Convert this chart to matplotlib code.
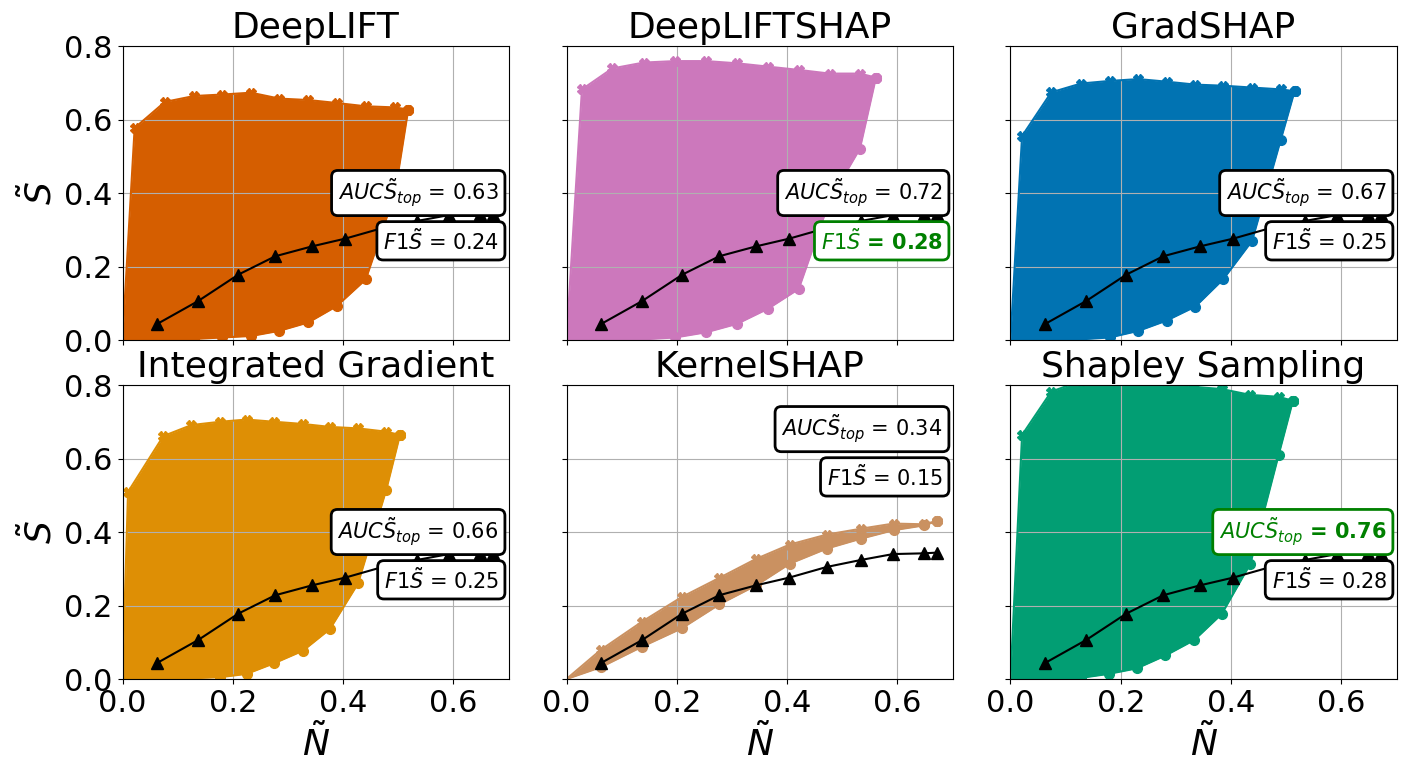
import matplotlib
matplotlib.use("Agg")
import matplotlib.pyplot as plt

methods = ["DeepLIFT", "DeepLIFTSHAP", "GradSHAP",
           "Integrated Gradient", "KernelSHAP", "Shapley Sampling"]
colors = ["#D55E00", "#CC78BC", "#0173B2", "#DE8F05", "#CA9161", "#029E73"]

# N~ values per method (shared by the top / bottom curves)
n_vals = [
    [0, 0.022, 0.077, 0.130, 0.181, 0.233, 0.284, 0.337, 0.388, 0.441, 0.494, 0.518],
    [0, 0.028, 0.083, 0.140, 0.197, 0.253, 0.309, 0.365, 0.421, 0.477, 0.532, 0.561],
    [0, 0.021, 0.074, 0.128, 0.180, 0.232, 0.283, 0.335, 0.386, 0.438, 0.490, 0.515],
    [0, 0.010, 0.074, 0.125, 0.177, 0.225, 0.275, 0.327, 0.376, 0.427, 0.478, 0.503],
    [0, 0.062, 0.137, 0.209, 0.277, 0.344, 0.405, 0.472, 0.534, 0.593, 0.648, 0.672],
    [0, 0.021, 0.074, 0.127, 0.178, 0.229, 0.281, 0.333, 0.383, 0.435, 0.486, 0.512],
]
s_top = [
    [0, 0.577, 0.648, 0.664, 0.668, 0.673, 0.657, 0.653, 0.645, 0.636, 0.633, 0.627],
    [0, 0.682, 0.739, 0.755, 0.759, 0.759, 0.753, 0.744, 0.735, 0.725, 0.725, 0.714],
    [0, 0.555, 0.674, 0.698, 0.705, 0.710, 0.703, 0.695, 0.692, 0.687, 0.682, 0.677],
    [0, 0.509, 0.661, 0.691, 0.700, 0.706, 0.700, 0.694, 0.686, 0.682, 0.673, 0.664],
    [0, 0.079, 0.156, 0.223, 0.275, 0.327, 0.366, 0.393, 0.409, 0.423, 0.421, 0.430],
    [0, 0.664, 0.782, 0.811, 0.820, 0.822, 0.810, 0.795, 0.789, 0.773, 0.768, 0.757],
]
s_bottom = [
    [0, 0.000, 0.001, 0.003, 0.007, 0.011, 0.025, 0.048, 0.092, 0.165, 0.400, 0.627],
    [0, 0.000, 0.000, 0.002, 0.007, 0.021, 0.044, 0.085, 0.139, 0.380, 0.521, 0.714],
    [0, 0.000, 0.000, 0.002, 0.007, 0.025, 0.053, 0.091, 0.166, 0.270, 0.545, 0.677],
    [0, 0.000, 0.000, 0.002, 0.005, 0.014, 0.043, 0.077, 0.136, 0.260, 0.514, 0.664],
    [0, 0.032, 0.088, 0.138, 0.203, 0.255, 0.314, 0.355, 0.382, 0.405, 0.418, 0.430],
    [0, 0.000, 0.002, 0.003, 0.014, 0.029, 0.064, 0.106, 0.177, 0.314, 0.609, 0.757],
]

# random baseline (same in every panel)
base_n = [0.062, 0.137, 0.210, 0.277, 0.344, 0.404, 0.472, 0.534, 0.592, 0.648, 0.672]
base_s = [0.043, 0.106, 0.178, 0.228, 0.255, 0.276, 0.305, 0.324, 0.340, 0.342, 0.344]

auc_vals = ["0.63", "0.72", "0.67", "0.66", "0.34", "0.76"]
f1_vals = ["0.24", "0.28", "0.25", "0.25", "0.15", "0.28"]
best_auc = 5
best_f1 = 1

# y position (data coords) of the two score boxes
box_y = {"auc": [0.40, 0.40, 0.40, 0.40, 0.68, 0.40],
         "f1": [0.27, 0.27, 0.27, 0.27, 0.55, 0.27]}


def score_box(ax, y, label, value, best):
    col = "green" if best else "black"
    ax.text(0.682, y, label + " = " + value, ha="right", va="center",
            fontsize=15, color=col, fontweight="bold" if best else "normal",
            zorder=5,
            bbox=dict(boxstyle="round,pad=0.3", facecolor="white",
                      edgecolor=col, linewidth=2))


fig, axes = plt.subplots(2, 3, figsize=(14.05, 7.62), dpi=100,
                         sharex=True, sharey=True)
fig.subplots_adjust(left=0.0872, right=0.994, bottom=0.1089, top=0.9396,
                    wspace=0.15, hspace=0.153)

for i, ax in enumerate(axes.flat):
    c = colors[i]
    x = n_vals[i]
    ax.fill_between(x, s_bottom[i], s_top[i], color=c, linewidth=0)
    ax.plot(x, s_top[i], color=c, marker="X", markersize=7, lw=1.5,
            markevery=list(range(1, len(x))))
    ax.plot(x, s_bottom[i], color=c, marker="o", markersize=7, lw=1.5,
            markevery=list(range(1, len(x))))
    ax.plot(base_n, base_s, color="black", marker="^", markersize=8, lw=1.5)

    score_box(ax, box_y["auc"][i], r"$AUC\tilde{S}_{top}$", auc_vals[i], i == best_auc)
    score_box(ax, box_y["f1"][i], r"$F1\tilde{S}$", f1_vals[i], i == best_f1)

    ax.set_title(methods[i], fontsize=26)
    ax.set_xlim(0, 0.7)
    ax.set_ylim(0, 0.8)
    ax.set_xticks([0.0, 0.2, 0.4, 0.6])
    ax.set_yticks([0.0, 0.2, 0.4, 0.6, 0.8])
    ax.tick_params(labelsize=22)
    ax.grid(True)

for ax in axes[1]:
    ax.set_xlabel(r"$\tilde{N}$", fontsize=26)
for ax in axes[:, 0]:
    ax.set_ylabel(r"$\tilde{S}$", fontsize=26)

fig.savefig("out.png", dpi=100)
